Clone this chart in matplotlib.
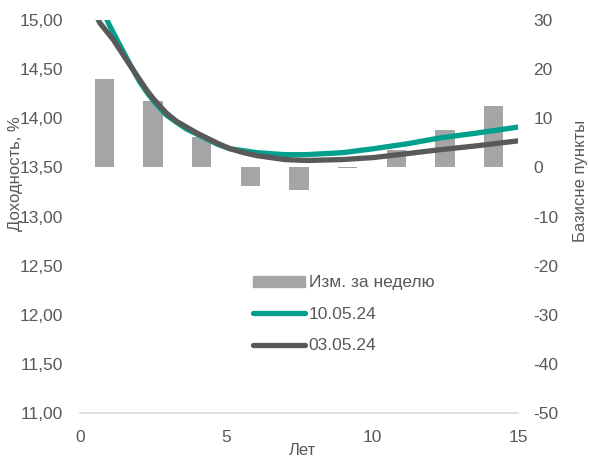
import matplotlib
matplotlib.use('Agg')
import matplotlib.pyplot as plt
from matplotlib.patches import Patch

plt.rcParams['font.family'] = ['Liberation Sans', 'DejaVu Sans']

# Изменение за неделю, б.п. (правая ось)
bar_years = [0.83, 2.5, 4.17, 5.83, 7.5, 9.17, 10.83, 12.5, 14.17]
bar_change = [18, 13.6, 6.2, -3.7, -4.7, -0.2, 3.5, 7.6, 12.4]

# Кривая 10.05.24
new_years = [0.6, 0.97, 1.3, 1.71, 2.05, 2.3, 2.51, 2.75, 2.97, 3.3, 3.65, 4.0, 4.34,
             4.75, 5.14, 5.6, 6.05, 7.0, 7.76, 9.0, 10.05, 11.2, 12.33, 13.6, 15.0]
new_yield = [15.25, 14.97, 14.78, 14.55, 14.37, 14.26, 14.18, 14.10, 14.03, 13.96, 13.89,
             13.84, 13.79, 13.73, 13.69, 13.67, 13.65, 13.63, 13.63, 13.65, 13.69,
             13.74, 13.80, 13.85, 13.91]

# Кривая 03.05.24
old_years = [0.3, 0.68, 1.14, 1.6, 2.05, 2.3, 2.51, 2.75, 2.97, 3.3, 3.65, 4.0, 4.34,
             4.75, 5.14, 5.6, 6.05, 7.0, 7.76, 9.0, 10.05, 11.2, 12.33, 13.6, 15.0]
old_yield = [15.2, 14.97, 14.80, 14.59, 14.39, 14.28, 14.20, 14.12, 14.05, 13.97, 13.91,
             13.85, 13.80, 13.74, 13.69, 13.65, 13.62, 13.58, 13.57, 13.58, 13.60,
             13.64, 13.68, 13.72, 13.77]

left_ticks = [11.0, 11.5, 12.0, 12.5, 13.0, 13.5, 14.0, 14.5, 15.0]
right_ticks = [-50, -40, -30, -20, -10, 0, 10, 20, 30]

grey_txt = '#595959'
teal = '#00A08C'
dark = '#595959'
bar_col = '#A5A5A5'

fig = plt.figure(figsize=(5.89, 4.59), dpi=100)
ax = fig.add_axes([0.1358, 0.1002, 0.7437, 0.8562])
ax2 = ax.twinx()
ax.set_zorder(ax2.get_zorder() + 1)
ax.patch.set_visible(False)

# столбцы на правой оси
ax2.bar(bar_years, bar_change, width=0.66, color=bar_col)
ax2.set_ylim(-50, 30)
ax2.set_yticks(right_ticks)
ax2.set_yticklabels([str(t) for t in right_ticks])

# линии на левой оси
ax.plot(new_years, new_yield, color=teal, lw=3.8, solid_capstyle='round',
        solid_joinstyle='round')
ax.plot(old_years, old_yield, color=dark, lw=3.8, solid_capstyle='round',
        solid_joinstyle='round')
ax.set_ylim(11, 15)
ax.set_xlim(0, 15)
ax.set_yticks(left_ticks)
ax.set_yticklabels([f'{t:.2f}'.replace('.', ',') for t in left_ticks])
ax.set_xticks([0, 5, 10, 15])

for a in (ax, ax2):
    for s in a.spines.values():
        s.set_visible(False)
    a.tick_params(length=0, labelsize=12.5, colors=grey_txt)
ax.spines['bottom'].set_visible(True)
ax.spines['bottom'].set_color('#D9D9D9')
ax.spines['bottom'].set_linewidth(1.2)
ax.tick_params(axis='y', pad=12)
ax.tick_params(axis='x', pad=12)
ax2.tick_params(axis='y', pad=11)

ax.set_xlabel('Лет', fontsize=12, color=grey_txt)
ax.xaxis.set_label_coords(0.507, -0.077)
ax.set_ylabel('Доходность, %', fontsize=12, color=grey_txt)
ax.yaxis.set_label_coords(-0.13, 0.61)
ax2.set_ylabel('Базисне пункты', fontsize=12, color=grey_txt)
ax2.yaxis.set_label_coords(1.125, 0.59)

handles = [Patch(color=bar_col),
           plt.Line2D([], [], color=teal, lw=3.8, solid_capstyle='round'),
           plt.Line2D([], [], color=dark, lw=3.8, solid_capstyle='round')]
labels = ['Изм. за неделю', '10.05.24', '03.05.24']
leg = ax.legend(handles, labels, loc='upper left', bbox_to_anchor=(0.36, 0.39),
                frameon=False, fontsize=12.5, handlelength=3.0, handleheight=0.6,
                handletextpad=0.2, labelspacing=0.95)
for t in leg.get_texts():
    t.set_color(grey_txt)

fig.savefig('out.png', dpi=100)
